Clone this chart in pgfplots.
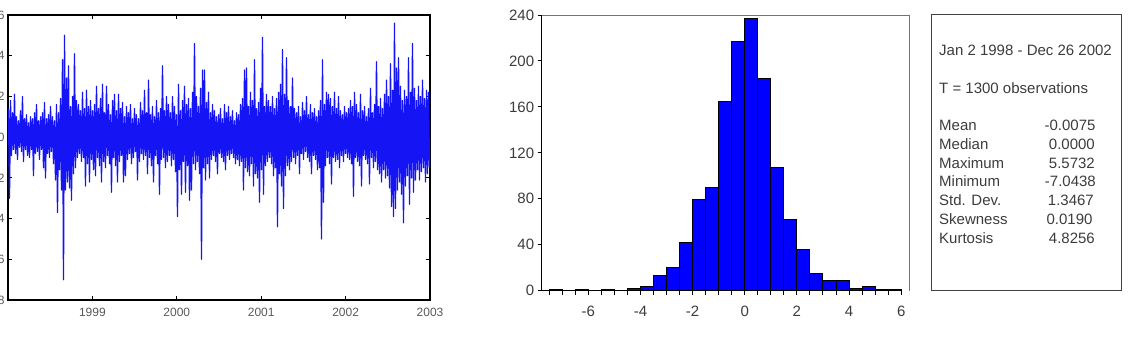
\documentclass[border=0pt]{standalone}
\usepackage{fontspec}
\setmainfont{Liberation Sans}
\usepackage{pgfplots}
\pgfplotsset{compat=1.18}
\usepackage{pgfplotstable}

\pgfplotstableread[row sep=\\]{
v\\
1.4\\ -3.0\\ 1.8\\ -0.9\\ 1.2\\ -0.6\\ 2.1\\ -0.8\\ 1.0\\ -1.1\\
0.8\\ -0.5\\ 1.3\\ -0.7\\ 2.0\\ -1.2\\ 0.9\\ -0.6\\ 1.1\\ -0.9\\
0.7\\ -1.0\\ 1.0\\ -0.6\\ 0.9\\ -1.9\\ 1.2\\ -0.8\\ 1.6\\ -0.7\\
0.8\\ -1.1\\ 1.0\\ -0.6\\ 1.2\\ -1.5\\ 1.7\\ -2.0\\ 0.9\\ -0.8\\
1.1\\ -1.0\\ 1.5\\ -0.7\\ 1.0\\ -1.3\\ 0.8\\ -2.1\\ 1.6\\ -3.7\\
1.2\\ -1.6\\ 1.9\\ -2.6\\ 3.8\\ -7.0\\ 5.0\\ -2.6\\ 2.9\\ -2.2\\
3.5\\ -2.5\\ 1.5\\ -3.1\\ 2.0\\ -1.8\\ 4.1\\ -1.5\\ 1.8\\ -1.0\\
1.6\\ -0.8\\ 1.3\\ -1.2\\ 2.2\\ -1.0\\ 1.4\\ -2.4\\ 2.3\\ -1.3\\
1.5\\ -2.2\\ 1.8\\ -1.1\\ 1.3\\ -1.6\\ 1.6\\ -1.9\\ 2.5\\ -1.0\\
1.4\\ -1.4\\ 1.9\\ -2.2\\ 2.6\\ -1.2\\ 1.2\\ -1.5\\ 2.5\\ -0.9\\
1.6\\ -1.3\\ 1.1\\ -2.7\\ 1.8\\ -1.0\\ 2.1\\ -1.4\\ 1.3\\ -2.2\\
2.1\\ -1.2\\ 1.4\\ -0.9\\ 1.7\\ -2.2\\ 1.0\\ -1.9\\ 1.5\\ -1.1\\
1.2\\ -0.8\\ 1.6\\ -1.3\\ 0.9\\ -1.0\\ 1.4\\ -0.7\\ 1.1\\ -2.1\\
0.9\\ -1.2\\ 1.7\\ -0.8\\ 1.3\\ -1.1\\ 2.3\\ -0.9\\ 1.2\\ -1.8\\
2.8\\ -1.0\\ 1.1\\ -1.4\\ 1.5\\ -2.2\\ 1.0\\ -0.9\\ 1.8\\ -1.3\\
1.2\\ -2.8\\ 1.4\\ -1.1\\ 3.5\\ -1.0\\ 1.3\\ -1.5\\ 2.0\\ -1.2\\
1.6\\ -0.9\\ 1.2\\ -1.4\\ 2.0\\ -1.1\\ 1.5\\ -1.7\\ 1.1\\ -3.9\\
2.6\\ -1.6\\ 1.3\\ -2.8\\ 1.8\\ -1.2\\ 2.5\\ -2.7\\ 1.6\\ -1.4\\
1.9\\ -3.1\\ 1.4\\ -2.6\\ 2.2\\ -1.3\\ 4.6\\ -1.6\\ 2.0\\ -1.2\\
1.5\\ -1.8\\ 2.4\\ -6.0\\ 3.3\\ -1.5\\ 3.3\\ -2.1\\ 1.7\\ -1.3\\
2.2\\ -2.0\\ 1.2\\ -1.1\\ 1.6\\ -0.9\\ 1.3\\ -1.2\\ 1.0\\ -1.8\\
1.1\\ -0.8\\ 1.4\\ -1.0\\ 0.9\\ -1.2\\ 1.6\\ -1.6\\ 1.2\\ -0.9\\
1.5\\ -1.1\\ 1.0\\ -0.8\\ 1.3\\ -1.0\\ 0.8\\ -1.3\\ 1.2\\ -1.1\\
1.1\\ -1.4\\ 1.6\\ -1.2\\ 1.9\\ -2.6\\ 3.3\\ -1.5\\ 3.4\\ -1.7\\
1.5\\ -1.9\\ 2.2\\ -1.3\\ 1.8\\ -2.4\\ 3.8\\ -1.8\\ 1.4\\ -2.0\\
1.7\\ -3.2\\ 2.4\\ -1.6\\ 4.9\\ -2.8\\ 1.5\\ -1.4\\ 2.1\\ -1.2\\
1.8\\ -1.0\\ 1.5\\ -1.3\\ 2.0\\ -1.9\\ 1.4\\ -1.5\\ 1.9\\ -4.4\\
2.2\\ -1.8\\ 2.6\\ -2.4\\ 4.3\\ -3.5\\ 2.1\\ -1.9\\ 3.9\\ -1.4\\
1.8\\ -1.6\\ 1.5\\ -1.2\\ 2.9\\ -1.0\\ 1.4\\ -1.3\\ 1.2\\ -0.9\\
1.5\\ -1.8\\ 1.0\\ -0.8\\ 1.7\\ -1.1\\ 1.3\\ -0.7\\ 2.0\\ -1.0\\
1.1\\ -1.2\\ 1.6\\ -1.8\\ 1.2\\ -0.9\\ 1.4\\ -1.1\\ 1.0\\ -1.6\\
1.3\\ -1.5\\ 1.8\\ -5.0\\ 3.8\\ -3.2\\ 1.6\\ -1.4\\ 2.2\\ -1.0\\
2.1\\ -1.3\\ 1.9\\ -2.3\\ 1.5\\ -1.0\\ 2.2\\ -1.2\\ 1.4\\ -1.1\\
2.0\\ -1.5\\ 1.3\\ -0.9\\ 1.1\\ -1.2\\ 1.5\\ -0.8\\ 1.2\\ -1.0\\
1.4\\ -1.1\\ 1.8\\ -1.3\\ 1.5\\ -2.9\\ 2.2\\ -1.0\\ 1.6\\ -1.2\\
1.2\\ -1.4\\ 2.1\\ -2.4\\ 1.3\\ -0.9\\ 1.5\\ -1.1\\ 1.0\\ -1.3\\
1.4\\ -2.3\\ 2.4\\ -1.0\\ 1.2\\ -1.5\\ 1.6\\ -1.2\\ 3.7\\ -1.6\\
1.5\\ -1.8\\ 1.9\\ -2.2\\ 1.4\\ -1.6\\ 2.1\\ -2.0\\ 2.8\\ -1.9\\
2.0\\ -2.5\\ 3.6\\ -3.4\\ 2.3\\ -3.9\\ 5.6\\ -3.5\\ 3.4\\ -2.6\\
3.9\\ -2.2\\ 2.5\\ -2.8\\ 1.8\\ -4.2\\ 2.3\\ -2.4\\ 2.0\\ -1.9\\
3.9\\ -3.3\\ 2.2\\ -2.0\\ 4.6\\ -2.7\\ 2.4\\ -2.1\\ 1.8\\ -1.6\\
2.5\\ -2.1\\ 2.0\\ -1.7\\ 2.8\\ -1.5\\ 1.9\\ -2.2\\ 2.3\\ -1.8\\
2.2\\ -1.5\\
}\seriesdata

\pgfplotstableread{
left count
-7.5 1
-7.0 0
-6.5 1
-6.0 0
-5.5 1
-5.0 0
-4.5 2
-4.0 4
-3.5 13
-3.0 20
-2.5 42
-2.0 79
-1.5 90
-1.0 165
-0.5 217
0.0 237
0.5 185
1.0 107
1.5 62
2.0 36
2.5 15
3.0 9
3.5 9
4.0 2
4.5 4
5.0 1
5.5 1
6.0 0
}\histdata

\definecolor{tsblue}{RGB}{20,20,245}
\definecolor{txtgray}{RGB}{60,60,60}

\begin{document}
\begin{tikzpicture}[x=1pt,y=1pt]
\useasboundingbox (0,0) rectangle (1140,341);

% ---------- time series ----------
\begin{axis}[
  at={(8pt,41pt)}, anchor=south west,
  width=422pt, height=285pt, scale only axis,
  xmin=1998, xmax=2003, ymin=-8, ymax=6,
  xtick={1999,2000,2001,2002,2003},
  xticklabels={1999,2000,2001,2002,2003},
  ytick={-8,-6,-4,-2,0,2,4,6},
  yticklabels={-8,-6,-4,-2,0,2,4,6},
  tick align=inside,
  major tick length=4pt,
  axis line style={line width=1.6pt, black},
  tick style={black, line width=0.8pt},
  tick label style={font=\fontsize{12}{14}\selectfont, text=black!65},
  xticklabel style={yshift=-5pt},
]
\addplot[color=tsblue, line width=1.3pt, line join=round]
  table[x expr={1998+(\coordindex+0.5)*5/422}, y=v] {\seriesdata};
\end{axis}

% ---------- histogram ----------
\begin{axis}[
  at={(541.7pt,50.3pt)}, anchor=south west,
  width=367.3pt, height=275.7pt, scale only axis,
  xmin=-7.79, xmax=6.30, ymin=0, ymax=240,
  xtick={-6,-4,-2,0,2,4,6},
  xticklabels={-6,-4,-2,0,2,4,6},
  minor xtick={-7.5,-7,-6.5,-5.5,-5,-4.5,-3.5,-3,-2.5,-1.5,-1,-0.5,0.5,1,1.5,2.5,3,3.5,4.5,5,5.5},
  ytick={0,40,80,120,160,200,240},
  yticklabels={0,40,80,120,160,200,240},
  xtick pos=bottom, ytick pos=left,
  tick align=outside,
  major tick length=4pt, minor tick length=4pt,
  tick style={black, line width=1pt},
  axis line style={draw=none},
  tick label style={font=\fontsize{15}{18}\selectfont, text=txtgray},
  xticklabel style={yshift=-8pt},
  clip=false,
]
\addplot[ybar interval, fill=blue, draw=black, line width=1pt]
  table[x=left, y=count] {\histdata};
\draw[black, line width=1.3pt] (rel axis cs:0,0) -- (rel axis cs:0,1);
\draw[black, line width=1.3pt] (rel axis cs:0,0) -- (axis cs:6,0);
\draw[black!55, line width=1pt] (rel axis cs:0,1) -- (rel axis cs:1,1) -- (rel axis cs:1,0);
\end{axis}

% ---------- statistics box ----------
\draw[black!75, line width=1pt] (931,51) rectangle (1121,326);
\begin{scope}[every node/.style={inner sep=0pt, font=\fontsize{15}{18}\selectfont, text=txtgray}]
\node[anchor=base west] at (939,286) {Jan 2 1998 - Dec 26 2002};
\node[anchor=base west] at (939,248) {T = 1300 observations};
\node[anchor=base west] at (939,210.2) {Mean};
\node[anchor=base west] at (939,191.5) {Median};
\node[anchor=base west] at (939,172.8) {Maximum};
\node[anchor=base west] at (939,154.1) {Minimum};
\node[anchor=base west] at (939,135.4) {Std. Dev.};
\node[anchor=base west] at (939,116.7) {Skewness};
\node[anchor=base west] at (939,98.0) {Kurtosis};
\node[anchor=base east] at (1095.7,210.2) {-0.0075};
\node[anchor=base east] at (1095,191.5) {0.0000};
\node[anchor=base east] at (1095,172.8) {5.5732};
\node[anchor=base east] at (1096,154.1) {-7.0438};
\node[anchor=base east] at (1094,135.4) {1.3467};
\node[anchor=base east] at (1092.7,116.7) {0.0190};
\node[anchor=base east] at (1095,98.0) {4.8256};
\end{scope}
\end{tikzpicture}
\end{document}
